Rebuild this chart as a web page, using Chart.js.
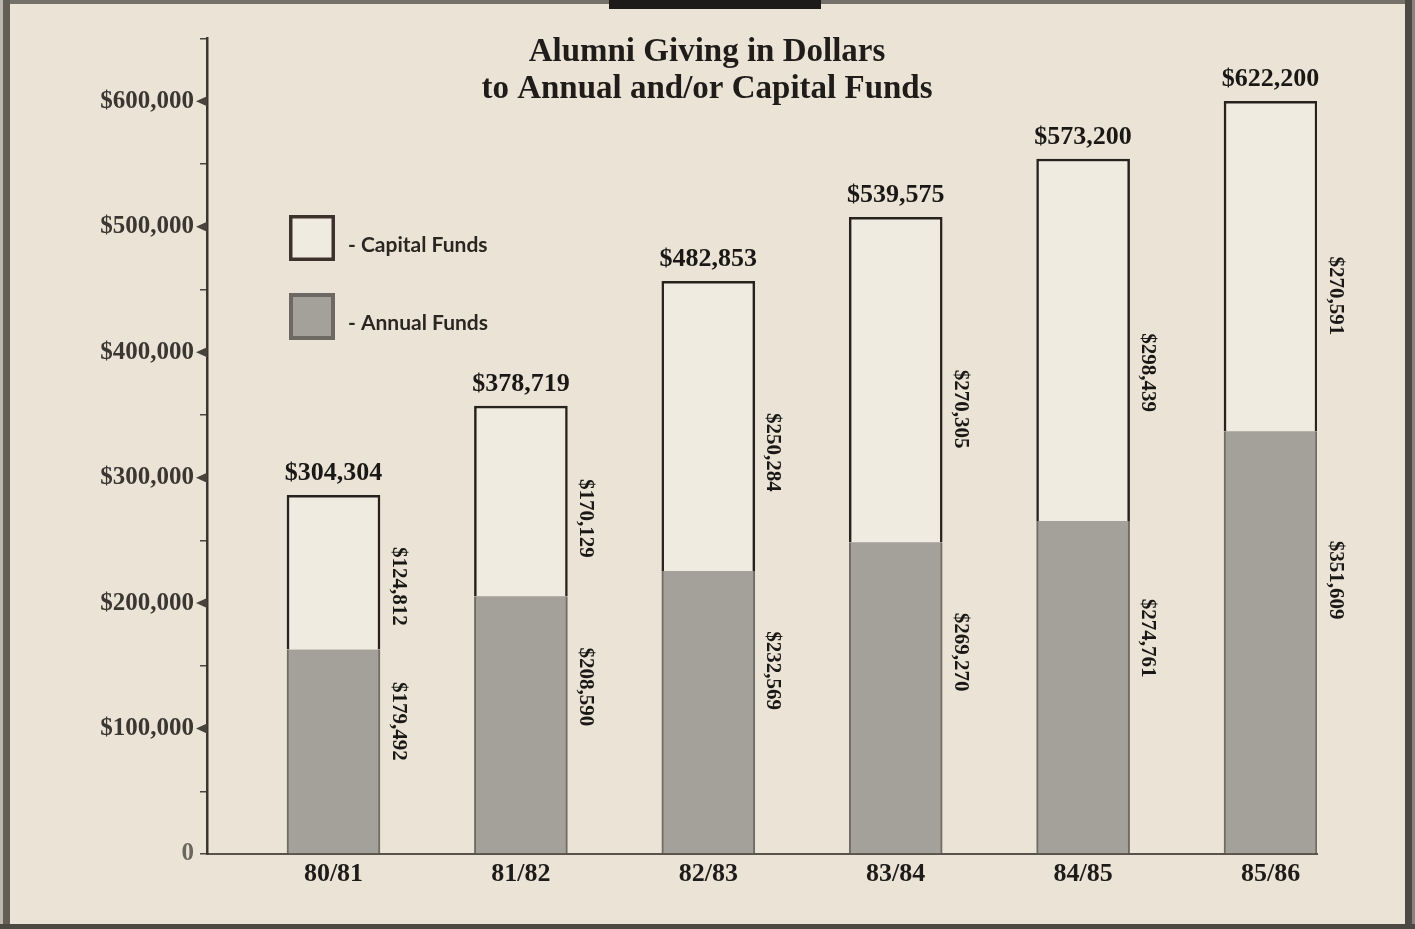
<!DOCTYPE html>
<html>
<head>
<meta charset="utf-8">
<script src="https://cdn.jsdelivr.net/npm/chart.js@4.4.1/dist/chart.umd.min.js"></script>
<style>
  html, body { margin: 0; padding: 0; background: #ebe4d6; }
  canvas { display: block; }
</style>
</head>
<body>
<canvas id="c" width="1415" height="929"></canvas>
<script>
// ---- data ----
const categories = ['80/81', '81/82', '82/83', '83/84', '84/85', '85/86'];
// bar heights as drawn against the value axis
const annualBarHeights = [163000, 205500, 225500, 248500, 265500, 337000];
const capitalBarHeights = [123000, 151500, 231000, 259000, 288500, 263000];
// values printed on the chart
const annualFunds = [179492, 208590, 232569, 269270, 274761, 351609];
const capitalFunds = [124812, 170129, 250284, 270305, 298439, 270591];
const totalFunds = [304304, 378719, 482853, 539575, 573200, 622200];
const titleLines = ['Alumni Giving in Dollars', 'to Annual and/or Capital Funds'];
const seriesNames = ['Annual Funds', 'Capital Funds'];

const fmt = v => '$' + v.toLocaleString('en-US');
const SERIF = '"Liberation Serif", "DejaVu Serif", serif';
const SANS = 'Lato, "Open Sans", sans-serif';

const framePlugin = {
  id: 'frame',
  beforeDraw(chart) {
    const ctx = chart.ctx;
    ctx.save();
    ctx.fillStyle = '#ebe4d6';
    ctx.fillRect(0, 0, chart.width, chart.height);
    ctx.restore();
  },
  afterDraw(chart) {
    const ctx = chart.ctx, W = chart.width, H = chart.height;
    ctx.save();
    ctx.fillStyle = '#74716b'; ctx.fillRect(0, 0, W, 4);
    ctx.fillStyle = '#1c1b1a'; ctx.fillRect(609, 0, 212, 9);
    ctx.fillStyle = '#bdb8ae'; ctx.fillRect(0, 0, 3, H);
    ctx.fillStyle = '#625e55'; ctx.fillRect(3, 0, 7, H);
    ctx.fillStyle = '#4d4a45'; ctx.fillRect(W - 10, 0, 7, H);
    ctx.fillStyle = '#8a857c'; ctx.fillRect(W - 3, 0, 3, H);
    ctx.fillStyle = '#4c4842'; ctx.fillRect(0, H - 5, W, 5);
    ctx.restore();
  }
};

const decorPlugin = {
  id: 'decor',
  afterDatasetsDraw(chart) {
    const ctx = chart.ctx;
    const ys = chart.scales.y;
    const area = chart.chartArea;
    ctx.save();
    // major tick triangles
    ctx.fillStyle = '#47423c';
    for (let v = 100000; v <= 600000; v += 100000) {
      const y = ys.getPixelForValue(v);
      ctx.beginPath();
      ctx.moveTo(area.left, y - 5);
      ctx.lineTo(area.left, y + 5);
      ctx.lineTo(area.left - 11, y);
      ctx.closePath();
      ctx.fill();
    }
    // title
    ctx.fillStyle = '#1f1c1a';
    ctx.font = 'bold 33px ' + SERIF;
    ctx.textAlign = 'center';
    ctx.textBaseline = 'middle';
    ctx.fillText(titleLines[0], 707, 52);
    ctx.fillText(titleLines[1], 707, 89);

    // legend
    const ds = chart.data.datasets;
    const lx = area.left + 82;
    ctx.fillStyle = ds[1].backgroundColor;
    ctx.fillRect(lx, 215, 46, 46);
    ctx.lineWidth = 3.5; ctx.strokeStyle = '#3e332c';
    ctx.strokeRect(lx + 1.75, 216.75, 42.5, 42.5);
    ctx.fillStyle = ds[0].backgroundColor;
    ctx.fillRect(lx, 293, 46, 47);
    ctx.lineWidth = 4; ctx.strokeStyle = '#6c6862';
    ctx.strokeRect(lx + 2, 295, 42, 43);
    ctx.font = 'bold 21px ' + SANS;
    ctx.textAlign = 'left';
    ctx.fillStyle = '#2a2622';
    ctx.fillText('- ' + seriesNames[1], lx + 59, 245);
    ctx.fillText('- ' + seriesNames[0], lx + 59, 323);

    // value labels
    const mA = chart.getDatasetMeta(0).data;
    const mC = chart.getDatasetMeta(1).data;
    for (let i = 0; i < categories.length; i++) {
      const a = mA[i], c = mC[i];
      const half = a.width / 2;
      ctx.font = 'bold 26px ' + SERIF;
      ctx.textAlign = 'center';
      ctx.textBaseline = 'middle';
      ctx.fillStyle = '#1a1816';
      ctx.fillText(fmt(totalFunds[i]), c.x, c.y - 22);
      ctx.font = 'bold 21px ' + SERIF;
      const lxr = a.x + half + 18;
      const yA = a.base - 0.647 * (a.base - a.y);
      const yC = c.base - 0.41 * (c.base - c.y);
      [[yA, annualFunds[i]], [yC, capitalFunds[i]]].forEach(([yy, val]) => {
        ctx.save();
        ctx.translate(lxr, yy);
        ctx.rotate(Math.PI / 2);
        ctx.fillText(fmt(val), 0, 0);
        ctx.restore();
      });
    }
    ctx.restore();
  }
};

new Chart(document.getElementById('c'), {
  type: 'bar',
  data: {
    datasets: [
      {
        label: seriesNames[0],
        data: annualBarHeights.map((v, i) => ({ x: i + 1, y: v })),
        backgroundColor: '#a4a09a',
        borderColor: '#6f6b65',
        borderWidth: { left: 2, right: 2, top: 0, bottom: 0 },
        borderSkipped: false,
        barThickness: 93
      },
      {
        label: seriesNames[1],
        data: capitalBarHeights.map((v, i) => ({ x: i + 1, y: v })),
        backgroundColor: '#f0ebe1',
        borderColor: '#26221e',
        borderWidth: { left: 2.5, right: 2.5, top: 2.5, bottom: 0 },
        borderSkipped: false,
        barThickness: 93
      }
    ]
  },
  options: {
    responsive: false,
    animation: false,
    devicePixelRatio: 1,
    layout: { padding: { left: 0, right: 98, top: 38.6, bottom: 0 } },
    plugins: { legend: { display: false }, tooltip: { enabled: false }, title: { display: false } },
    scales: {
      x: {
        type: 'linear',
        stacked: true,
        offset: false,
        min: 0.325,
        max: 6.248,
        afterBuildTicks: s => { s.ticks = categories.map((c, i) => ({ value: i + 1 })); },
        afterFit: s => { s.height = 75; },
        ticks: {
          callback: v => categories[Math.round(v) - 1] || '',
          font: { family: SERIF, weight: 'bold', size: 26 },
          color: '#1e1c1a',
          padding: 5,
          maxRotation: 0,
          autoSkip: false
        },
        grid: { display: false, drawTicks: false, offset: false },
        border: { display: true, color: '#57524b', width: 2 }
      },
      y: {
        stacked: true,
        min: 0,
        max: 650000,
        afterFit: s => { s.width = 207; },
        ticks: {
          stepSize: 50000,
          autoSkip: false,
          callback: v => v === 0 ? '0' : (v % 100000 === 0 && v < 650000 ? fmt(v) : ''),
          font: { family: SERIF, weight: 'bold', size: 25 },
          color: ctx => ctx.tick && ctx.tick.value === 0 ? '#6b665e' : '#3a3632',
          padding: 6
        },
        grid: { display: true, drawOnChartArea: false, drawTicks: true, tickLength: 7, color: '#4a4540', lineWidth: 1.5 },
        border: { display: true, color: '#3a3530', width: 2.5 }
      }
    }
  },
  plugins: [framePlugin, decorPlugin]
});
</script>
</body>
</html>
